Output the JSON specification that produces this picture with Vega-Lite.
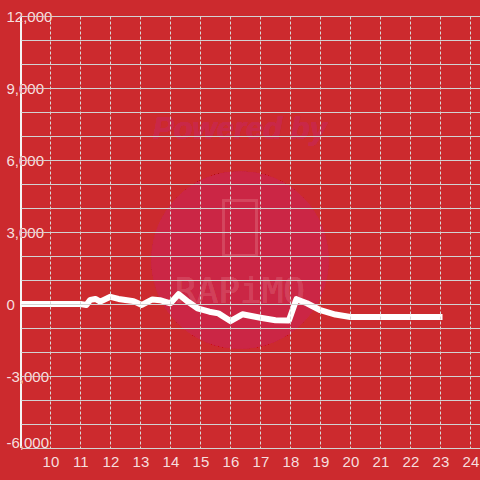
{
  "$schema": "https://vega.github.io/schema/vega-lite/v6.json",
  "width": 459,
  "height": 432,
  "autosize": {"type": "none"},
  "padding": {"left": 21, "top": 16, "right": 0, "bottom": 32},
  "background": "#cc2a2e",
  "config": {"view": {"stroke": null}, "font": "Liberation Sans"},
  "data": {"values": [
    {"x": 9, "y": 0},
    {"x": 11.0, "y": 0},
    {"x": 11.2, "y": -40},
    {"x": 11.33, "y": 170},
    {"x": 11.5, "y": 210},
    {"x": 11.66, "y": 100},
    {"x": 12.0, "y": 300},
    {"x": 12.27, "y": 210},
    {"x": 12.5, "y": 170},
    {"x": 12.77, "y": 120},
    {"x": 13.05, "y": -40},
    {"x": 13.4, "y": 190},
    {"x": 13.65, "y": 160},
    {"x": 14.0, "y": 30},
    {"x": 14.27, "y": 410},
    {"x": 14.6, "y": 80},
    {"x": 14.9, "y": -180},
    {"x": 15.3, "y": -320},
    {"x": 15.6, "y": -390},
    {"x": 16.0, "y": -710},
    {"x": 16.4, "y": -430},
    {"x": 17.0, "y": -570},
    {"x": 17.5, "y": -680},
    {"x": 17.95, "y": -690},
    {"x": 18.2, "y": 200},
    {"x": 18.55, "y": 30},
    {"x": 19.0, "y": -260},
    {"x": 19.5, "y": -440},
    {"x": 20.0, "y": -540},
    {"x": 23.07, "y": -540}
  ]},
  "encoding": {
    "x": {
      "field": "x", "type": "quantitative",
      "scale": {"domain": [9.02, 24.32], "nice": false, "zero": false},
      "axis": {
        "title": null, "zindex": 1,
        "values": [10, 11, 12, 13, 14, 15, 16, 17, 18, 19, 20, 21, 22, 23, 24],
        "grid": true, "gridColor": "#d8d8d8", "gridDash": [3, 2], "gridWidth": 1,
        "domain": false, "ticks": false, "tickSize": 0,
        "labelFlush": false, "labelOverlap": false, "labelPadding": 6, "labelFontSize": 15, "labelColor": "#f6dede",
        "labelFont": "Liberation Sans"
      }
    }
  },
  "resolve": {"axis": {"y": "independent"}},
  "layer": [
    {
      "mark": {"type": "point", "filled": true, "fill": "#ca2746", "strokeWidth": 0, "size": 31400},
      "encoding": {
        "x": {"datum": 16.32, "type": "quantitative"},
        "y": {
          "datum": 1833, "type": "quantitative",
          "scale": {"domain": [-6000, 12000], "nice": false, "zero": false},
          "axis": {
            "title": null, "zindex": 1, "orient": "left",
            "values": [-6000, -5000, -4000, -3000, -2000, -1000, 0, 1000, 2000, 3000, 4000, 5000, 6000, 7000, 8000, 9000, 10000, 11000, 12000],
            "labelExpr": "datum.value % 3000 === 0 ? replace(format(datum.value, ','), '\u2212', '-') : ''",
            "grid": true, "gridColor": "#d2d2d2", "gridWidth": 1,
            "domain": false, "ticks": false, "tickSize": 0,
            "labelAlign": "left", "labelPadding": 15, "labelFontSize": 15, "labelColor": "#cc2a2e",
            "labelOffset": {"condition": {"test": "datum.value === -6000", "value": -6}, "value": 0.5},
            "labelFlush": false, "labelOverlap": false, "labelFont": "Liberation Sans",
            "encode": {"labels": {"update": {"stroke": {"value": "#cc2a2e"}, "strokeWidth": {"value": 5}, "strokeJoin": {"value": "round"}}}}
          }
        }
      }
    },
    {
      "mark": {"type": "text", "text": "Powered by", "font": "Liberation Sans", "fontSize": 31, "fontWeight": "bold", "fontStyle": "italic", "fill": "#c92848"},
      "encoding": {
        "x": {"datum": 16.32, "type": "quantitative"},
        "y": {"datum": 7250, "type": "quantitative", "axis": null}
      }
    },
    {
      "mark": {"type": "point", "shape": "M-0.6,-1L0.6,-1L0.6,1L-0.6,1Z", "filled": false, "stroke": "#d5475f", "strokeWidth": 2.5, "size": 3025},
      "encoding": {
        "x": {"datum": 16.32, "type": "quantitative"},
        "y": {"datum": 3167, "type": "quantitative", "axis": null}
      }
    },
    {
      "mark": {"type": "text", "text": "RAPiMO", "font": "DejaVu Sans Mono", "fontSize": 36, "fill": "#d2405a", "baseline": "middle"},
      "encoding": {
        "x": {"datum": 16.32, "type": "quantitative"},
        "y": {"datum": 500, "type": "quantitative", "axis": null}
      }
    },
    {
      "mark": {"type": "rule", "color": "#f4f4f4", "strokeWidth": 2},
      "encoding": {"x": {"datum": 9.02, "type": "quantitative"}}
    },
    {
      "mark": {"type": "rule", "color": "#ffffff", "strokeWidth": 3},
      "encoding": {"y": {"datum": 0, "type": "quantitative", "axis": null}}
    },
    {
      "mark": {"type": "line", "color": "#ffffff", "strokeWidth": 6, "strokeJoin": "round", "strokeCap": "butt"},
      "encoding": {
        "y": {
          "field": "y", "type": "quantitative",
          "scale": {"domain": [-6000, 12000], "nice": false, "zero": false},
          "axis": {
            "title": null, "zindex": 1, "orient": "left",
            "values": [-6000, -3000, 0, 3000, 6000, 9000, 12000],
            "labelExpr": "replace(format(datum.value, ','), '\u2212', '-')",
            "grid": false, "domain": false, "ticks": false, "tickSize": 0,
            "labelAlign": "left", "labelPadding": 15, "labelFontSize": 15, "labelColor": "#f6dede",
            "labelOffset": {"condition": {"test": "datum.value === -6000", "value": -6}, "value": 0.5},
            "labelFlush": false, "labelOverlap": false, "labelFont": "Liberation Sans"
          }
        }
      }
    }
  ]
}
